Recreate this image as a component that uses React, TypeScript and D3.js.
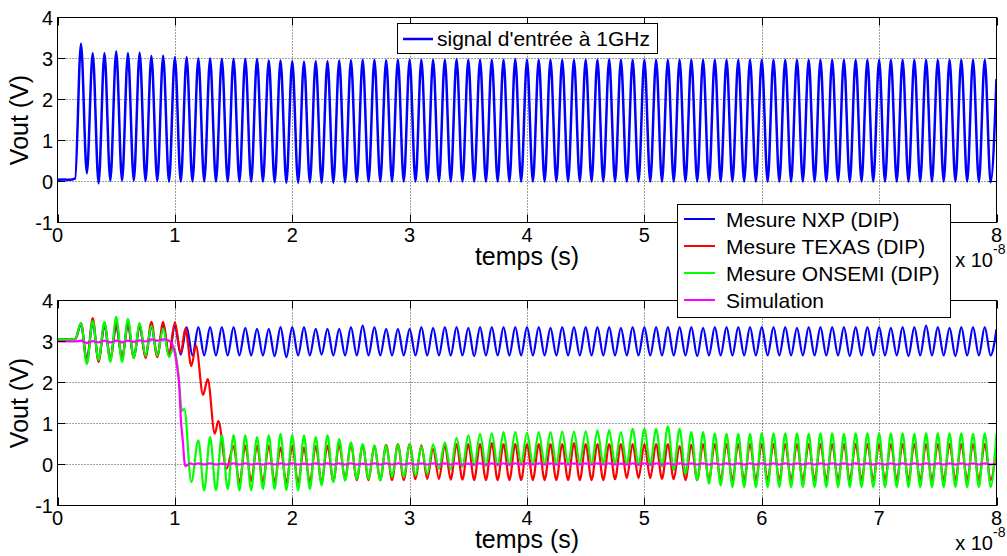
import React from 'react';
import * as d3 from 'd3';

// time axis in units of 1e-8 s; one period of the 1 GHz signal
const PERIOD = 0.1;
const xTicks = [0, 1, 2, 3, 4, 5, 6, 7, 8];
const yTicks = [-1, 0, 1, 2, 3, 4];
// top-axes tick labels that the lower legend covers in the reference
const topHiddenXLabels = [6, 7];

// ---------- top: input signal ----------
const inputLabel = "signal d'entrée à 1GHz";
const inputLead: [number, number][] = [[0, 0.04], [0.06, 0.05], [0.1, 0.04], [0.15, 0.07]];
const inputPeakStart = 0.2;
const inputPeaks = [
  3.36, 3.13, 3.13, 3.17, 3.13, 3.14, 3.06, 3.07, 3.03, 3.03,
  3.0, 3.0, 2.99, 2.99, 2.99, 2.99, 2.95, 2.95, 2.93, 2.92,
  2.93, 2.93, 2.95, 2.96, 2.97, 2.97, 2.96, 2.97, 2.97, 2.97,
  2.97, 2.97, 2.98, 2.97, 2.97, 2.97, 2.97, 2.98, 2.97, 2.97,
  2.97, 2.97, 2.97, 2.97, 2.97, 2.98, 2.97, 2.97, 2.97, 2.97,
  2.97, 2.97, 2.97, 2.97, 2.97, 2.97, 2.97, 2.97, 2.97, 2.97,
  2.97, 2.97, 2.97, 2.97, 2.97, 2.97, 2.97, 2.97, 2.97, 2.97,
  2.97, 2.97, 2.97, 2.97, 2.97, 2.97, 2.97, 2.97,
];
const inputTroughs = [
  0.2, -0.04, 0.02, 0.02, 0.02, 0.01, 0.01, 0.0, 0.0, 0.0,
  0.0, 0.0, 0.0, 0.0, 0.0, 0.0, -0.02, -0.03, -0.03, -0.02,
  -0.03, -0.03, -0.02, -0.01, 0.0, 0.0, 0.0, 0.0, 0.0, 0.0,
  0.0, 0.0, 0.0, 0.0, 0.0, 0.0, 0.0, 0.0, 0.0, 0.0,
  0.0, 0.0, 0.0, 0.0, 0.0, 0.0, 0.0, 0.0, 0.0, 0.0,
  0.0, 0.0, 0.0, 0.0, 0.0, 0.0, 0.0, 0.0, 0.0, 0.0,
  0.0, 0.0, 0.0, 0.0, 0.0, -0.01, 0.0, 0.0, 0.0, 0.0,
  0.0, 0.0, 0.0, 0.0, 0.0, 0.0, -0.01, -0.02,
];
const inputTail: [number, number][] = [[8, 2.5]];

// ---------- bottom: NXP ----------
const nxpLabel = 'Mesure NXP (DIP)';
const nxpLead: [number, number][] = [[0, 3.05], [0.15, 3.05]];
const nxpPeakStart = 0.2;
const nxpPeaks = [
  3.42, 3.45, 3.38, 3.35, 3.38, 3.35, 3.35, 3.38,
  3.38, 3.35, 3.35, 3.35, 3.35, 3.35, 3.33, 3.31, 3.31, 3.35,
  3.35, 3.35, 3.31, 3.31, 3.31, 3.35, 3.39, 3.35, 3.31, 3.31,
  3.31, 3.35, 3.33, 3.35, 3.35, 3.33, 3.35, 3.35, 3.35, 3.35,
  3.35, 3.35, 3.33, 3.35, 3.35, 3.35, 3.35, 3.35, 3.33, 3.35,
  3.35, 3.35, 3.35, 3.35, 3.35, 3.33, 3.35, 3.35, 3.35, 3.35,
  3.35, 3.35, 3.35, 3.33, 3.35, 3.35, 3.35, 3.35, 3.35, 3.35,
  3.35, 3.33, 3.35, 3.35, 3.39, 3.35, 3.33, 3.35, 3.35, 3.35,
  3.3,
];
const nxpTroughs = [
  2.55, 2.55, 2.6, 2.6, 2.62, 2.63, 2.64, 2.65,
  2.68, 2.66, 2.66, 2.66, 2.66, 2.66, 2.66, 2.66, 2.64, 2.62,
  2.66, 2.66, 2.68, 2.66, 2.66, 2.66, 2.66, 2.66, 2.66, 2.66,
  2.66, 2.66, 2.66, 2.66, 2.66, 2.64, 2.66, 2.66, 2.66, 2.66,
  2.66, 2.66, 2.66, 2.66, 2.66, 2.66, 2.66, 2.66, 2.66, 2.66,
  2.66, 2.66, 2.66, 2.66, 2.64, 2.66, 2.66, 2.66, 2.66, 2.66,
  2.66, 2.66, 2.66, 2.66, 2.66, 2.66, 2.66, 2.64, 2.66, 2.66,
  2.66, 2.66, 2.64, 2.66, 2.66, 2.66, 2.64, 2.66, 2.66, 2.66,
];

// ---------- bottom: TEXAS ----------
const texasLabel = 'Mesure TEXAS (DIP)';
const texasLead: [number, number][] = [[0, 3.05], [0.15, 3.05]];
const texasEarlyStart = 0.2;
const texasEarlyPeaks = [3.45, 3.57, 3.45, 3.45, 3.45, 3.42, 3.48, 3.48, 3.47];
const texasEarlyTroughs = [2.5, 2.5, 2.55, 2.6, 2.6, 2.6, 2.62, 2.68, 2.72];
const texasDrop: [number, number][] = [
  [1.09, 3.32], [1.14, 2.4], [1.18, 2.9], [1.24, 1.7], [1.28, 2.08],
  [1.34, 0.75], [1.37, 1.06], [1.44, -0.1],
];
const texasPeakStart = 1.5;
const texasPeaks = [
  0.45, 0.46, 0.46, 0.46, 0.41, 0.45, 0.41, 0.45, 0.46, 0.48,
  0.5, 0.47, 0.46, 0.48, 0.5, 0.5, 0.47, 0.38, 0.46, 0.5,
  0.5, 0.5, 0.52, 0.5, 0.5, 0.5, 0.5, 0.5, 0.5, 0.52,
  0.5, 0.5, 0.5, 0.5, 0.5, 0.5, 0.5, 0.5, 0.45, 0.48,
  0.5, 0.5, 0.5, 0.5, 0.5, 0.5, 0.5, 0.5, 0.5, 0.5,
  0.5, 0.5, 0.5, 0.5, 0.5, 0.5, 0.5, 0.5, 0.5, 0.5,
  0.5, 0.5, 0.5, 0.5, 0.5, 0.5,
];
const texasTroughs = [
  -0.45, -0.4, -0.43, -0.43, -0.45, -0.45, -0.43, -0.43, -0.4, -0.35,
  -0.38, -0.38, -0.38, -0.38, -0.38, -0.36, -0.35, -0.35, -0.37, -0.37,
  -0.38, -0.38, -0.38, -0.38, -0.38, -0.38, -0.38, -0.38, -0.38, -0.38,
  -0.38, -0.38, -0.36, -0.33, -0.33, -0.33, -0.35, -0.36, -0.38, -0.38,
  -0.38, -0.38, -0.38, -0.38, -0.38, -0.38, -0.38, -0.38, -0.38, -0.38,
  -0.38, -0.38, -0.38, -0.38, -0.38, -0.38, -0.38, -0.38, -0.38, -0.38,
  -0.38, -0.38, -0.38, -0.38, -0.38,
];

// ---------- bottom: ONSEMI ----------
const onsemiLabel = 'Mesure ONSEMI (DIP)';
const onsemiLead: [number, number][] = [[0, 3.05], [0.15, 3.05]];
const onsemiEarlyStart = 0.2;
const onsemiEarlyPeaks = [3.45, 3.5, 3.48, 3.6, 3.55, 3.45, 3.38, 3.32];
const onsemiEarlyTroughs = [2.45, 2.55, 2.5, 2.5, 2.6, 2.65, 2.65, 2.62];
const onsemiDrop: [number, number][] = [
  [0.99, 2.85], [1.03, 2.2], [1.06, 1.3], [1.08, 1.36], [1.14, -0.43],
];
const onsemiPeakStart = 1.2;
const onsemiPeaks = [
  0.59, 0.67, 0.71, 0.72, 0.71, 0.67, 0.71, 0.75, 0.72, 0.71,
  0.67, 0.71, 0.62, 0.54, 0.5, 0.46, 0.47, 0.5, 0.5, 0.44,
  0.49, 0.54, 0.65, 0.71, 0.75, 0.76, 0.79, 0.79, 0.77, 0.79,
  0.79, 0.8, 0.8, 0.81, 0.83, 0.84, 0.79, 0.87, 0.87, 0.87,
  0.93, 0.87, 0.79, 0.79, 0.76, 0.75, 0.75, 0.75, 0.76, 0.76,
  0.76, 0.76, 0.75, 0.76, 0.76, 0.75, 0.76, 0.76, 0.76, 0.76,
  0.76, 0.75, 0.76, 0.76, 0.76, 0.76, 0.75, 0.76, 0.76,
];
const onsemiTroughs = [
  -0.63, -0.63, -0.6, -0.63, -0.63, -0.6, -0.6, -0.62, -0.63, -0.6,
  -0.51, -0.43, -0.39, -0.35, -0.35, -0.39, -0.31, -0.31, -0.27, -0.23,
  -0.11, -0.12, -0.06, -0.02, -0.04, -0.03, -0.02, 0.02, 0.02, 0.02,
  0.02, 0.02, 0.02, 0.02, 0.02, 0.02, 0.0, -0.02, -0.02, -0.05,
  -0.13, -0.23, -0.39, -0.47, -0.51, -0.55, -0.55, -0.55, -0.55, -0.55,
  -0.55, -0.55, -0.55, -0.55, -0.55, -0.55, -0.55, -0.55, -0.55, -0.55,
  -0.55, -0.55, -0.55, -0.55, -0.55, -0.55, -0.55, -0.55,
];

// ---------- bottom: Simulation ----------
const simLabel = 'Simulation';
const simLead: [number, number][] = [[0, 3.0], [0.15, 3.0]];
const simEarlyStart = 0.2;
const simEarlyPeaks = [3.02, 3.01, 3.02, 3.02, 3.02, 3.03, 3.05, 3.05];
const simEarlyTroughs = [2.96, 2.98, 2.98, 2.98, 2.99, 3.0, 3.02, 3.02];
const simDrop: [number, number][] = [
  [0.98, 2.92], [1.0, 2.72], [1.02, 2.37], [1.04, 1.8], [1.05, 1.15],
  [1.07, 0.5], [1.08, 0.1], [1.09, -0.04], [1.13, 0.03], [1.16, 0.0],
];
const simPeakStart = 1.2;
const simPeaks = [
  0.03, 0.03, 0.02, 0.03, 0.03, 0.02, 0.03, 0.03, 0.03, 0.02,
  0.03, 0.03, 0.03, 0.03, 0.02, 0.03, 0.03, 0.03, 0.03, 0.03,
  0.03, 0.03, 0.03, 0.02, 0.03, 0.03, 0.03, 0.03, 0.03, 0.03,
  0.03, 0.03, 0.03, 0.03, 0.03, 0.03, 0.02, 0.03, 0.03, 0.03,
  0.03, 0.03, 0.03, 0.03, 0.03, 0.03, 0.03, 0.03, 0.03, 0.03,
  0.03, 0.03, 0.03, 0.03, 0.03, 0.03, 0.03, 0.03, 0.03, 0.03,
  0.03, 0.03, 0.03, 0.03, 0.03, 0.03, 0.03, 0.03, 0.03,
];
const simTroughs = [
  0.0, 0.0, 0.0, 0.0, 0.0, 0.0, 0.0, 0.0, 0.0, 0.0,
  0.0, 0.0, 0.0, 0.0, 0.0, 0.0, 0.0, 0.0, 0.0, 0.0,
  0.0, 0.0, 0.0, 0.0, 0.0, 0.0, 0.0, 0.0, 0.0, 0.0,
  0.0, 0.0, 0.0, 0.0, 0.0, 0.0, 0.0, 0.0, 0.0, 0.0,
  0.0, 0.0, 0.0, 0.0, 0.0, 0.0, 0.0, 0.0, 0.0, 0.0,
  0.0, 0.0, 0.0, 0.0, 0.0, 0.0, 0.0, 0.0, 0.0, 0.0,
  0.0, 0.0, 0.0, 0.0, 0.0, 0.0, 0.0, 0.0,
];

// alternate peaks and troughs, half a period apart
function oscillation(start: number, peaks: number[], troughs: number[]): [number, number][] {
  const pts: [number, number][] = [];
  peaks.forEach((p, i) => {
    pts.push([start + i * PERIOD, p]);
    if (i < troughs.length) pts.push([start + i * PERIOD + PERIOD / 2, troughs[i]]);
  });
  return pts;
}

const inputSeries = [...inputLead, ...oscillation(inputPeakStart, inputPeaks, inputTroughs), ...inputTail];
const nxpSeries = [...nxpLead, ...oscillation(nxpPeakStart, nxpPeaks, nxpTroughs)];
const texasSeries = [
  ...texasLead,
  ...oscillation(texasEarlyStart, texasEarlyPeaks, texasEarlyTroughs),
  ...texasDrop,
  ...oscillation(texasPeakStart, texasPeaks, texasTroughs),
];
const onsemiSeries = [
  ...onsemiLead,
  ...oscillation(onsemiEarlyStart, onsemiEarlyPeaks, onsemiEarlyTroughs),
  ...onsemiDrop,
  ...oscillation(onsemiPeakStart, onsemiPeaks, onsemiTroughs),
];
const simSeries = [
  ...simLead,
  ...oscillation(simEarlyStart, simEarlyPeaks, simEarlyTroughs),
  ...simDrop,
  ...oscillation(simPeakStart, simPeaks, simTroughs),
];

const bottomSeries = [
  { label: nxpLabel, color: '#0000ff', data: nxpSeries },
  { label: texasLabel, color: '#ff0000', data: texasSeries },
  { label: onsemiLabel, color: '#00ff00', data: onsemiSeries },
  { label: simLabel, color: '#ff00ff', data: simSeries },
];

const FONT = "'Liberation Sans', Arial, Helvetica, sans-serif";

const x = d3.scaleLinear().domain([0, 8]).range([57.5, 996.5]);
const yTop = d3.scaleLinear().domain([-1, 4]).range([222.5, 17.5]);
const yBot = d3.scaleLinear().domain([-1, 4]).range([505.5, 300.5]);

function Axes({ y, id, hiddenX = [], children }: {
  y: d3.ScaleLinear<number, number>; id: string; hiddenX?: number[]; children: React.ReactNode;
}) {
  const [x0, x1] = x.range();
  const [yb, yt] = y.range();
  const tickLen = 8;
  return (
    <g>
      <defs>
        <clipPath id={id}>
          <rect x={x0} y={yt} width={x1 - x0} height={yb - yt} />
        </clipPath>
      </defs>
      <rect x={x0} y={yt} width={x1 - x0} height={yb - yt} fill="#fff" />
      {xTicks.slice(1, -1).map((t) => (
        <line key={'gx' + t} x1={Math.round(x(t)) + 0.5} x2={Math.round(x(t)) + 0.5} y1={yt} y2={yb}
          stroke="#000" strokeOpacity={0.75} strokeWidth={1} strokeDasharray="1,2" />
      ))}
      {yTicks.slice(1, -1).map((t) => (
        <line key={'gy' + t} x1={x0} x2={x1} y1={y(t)} y2={y(t)}
          stroke="#000" strokeOpacity={0.75} strokeWidth={1} strokeDasharray="1,2" />
      ))}
      <g clipPath={`url(#${id})`}>{children}</g>
      <rect x={x0} y={yt} width={x1 - x0} height={yb - yt} fill="none" stroke="#000" strokeWidth={1} />
      {xTicks.map((t) => (
        <g key={'tx' + t}>
          <line x1={Math.round(x(t)) + 0.5} x2={Math.round(x(t)) + 0.5} y1={yb} y2={yb - tickLen} stroke="#000" />
          <line x1={Math.round(x(t)) + 0.5} x2={Math.round(x(t)) + 0.5} y1={yt} y2={yt + tickLen} stroke="#000" />
          {hiddenX.includes(t) ? null : (
            <text x={x(t)} y={yb + 19} textAnchor="middle" fontSize={20} fontFamily={FONT}>{t}</text>
          )}
        </g>
      ))}
      {yTicks.map((t) => (
        <g key={'ty' + t}>
          <line x1={x0} x2={x0 + tickLen} y1={y(t)} y2={y(t)} stroke="#000" />
          <line x1={x1} x2={x1 - tickLen} y1={y(t)} y2={y(t)} stroke="#000" />
          <text x={53} y={y(t) + 7} textAnchor="end" fontSize={20} fontFamily={FONT}>{t}</text>
        </g>
      ))}
      <text x={(x0 + x1) / 2} y={yb + 42} textAnchor="middle" fontSize={25} fontFamily={FONT}>temps (s)</text>
      <text transform={`translate(28,${(yt + yb) / 2}) rotate(-90)`} textAnchor="middle" fontSize={25} fontFamily={FONT}>Vout (V)</text>
      <text x={993} y={yb + 44} textAnchor="end" fontSize={20} fontFamily={FONT}>x 10</text>
      <text x={993} y={yb + 31} textAnchor="start" fontSize={14} fontFamily={FONT}>-8</text>
    </g>
  );
}

export default function App() {
  const lineTop = d3.line<[number, number]>().x((d) => x(d[0])).y((d) => yTop(d[1])).curve(d3.curveMonotoneX);
  const lineBot = d3.line<[number, number]>().x((d) => x(d[0])).y((d) => yBot(d[1])).curve(d3.curveMonotoneX);
  return (
    <svg width={1007} height={556} style={{ position: 'absolute', left: 0, top: 0, background: '#fff' }}>
      <rect width={1007} height={556} fill="#fff" />
      <Axes y={yTop} id="clipTop" hiddenX={topHiddenXLabels}>
        <path d={lineTop(inputSeries) || ''} fill="none" stroke="#0000ff" strokeWidth={2.5} strokeLinejoin="round" />
      </Axes>
      {/* top legend */}
      <g fontFamily={FONT}>
        <rect x={397.5} y={23.5} width={260} height={30} fill="#fff" stroke="#000" />
        <line x1={403} x2={433} y1={39} y2={39} stroke="#0000ff" strokeWidth={2.5} />
        <text x={437} y={46} fontSize={21}>{inputLabel}</text>
      </g>
      <Axes y={yBot} id="clipBot">
        {bottomSeries.map((s) => (
          <path key={s.label} d={lineBot(s.data) || ''} fill="none" stroke={s.color} strokeWidth={2.2} strokeLinejoin="round" />
        ))}
      </Axes>
      {/* bottom legend */}
      <g fontFamily={FONT}>
        <rect x={677.5} y={204.5} width={273} height={113} fill="#fff" stroke="#000" />
        {bottomSeries.map((s, i) => (
          <g key={s.label}>
            <line x1={684} x2={715} y1={219 + i * 27} y2={219 + i * 27} stroke={s.color} strokeWidth={2} />
            <text x={726} y={227 + i * 27} fontSize={21}>{s.label}</text>
          </g>
        ))}
      </g>
    </svg>
  );
}
